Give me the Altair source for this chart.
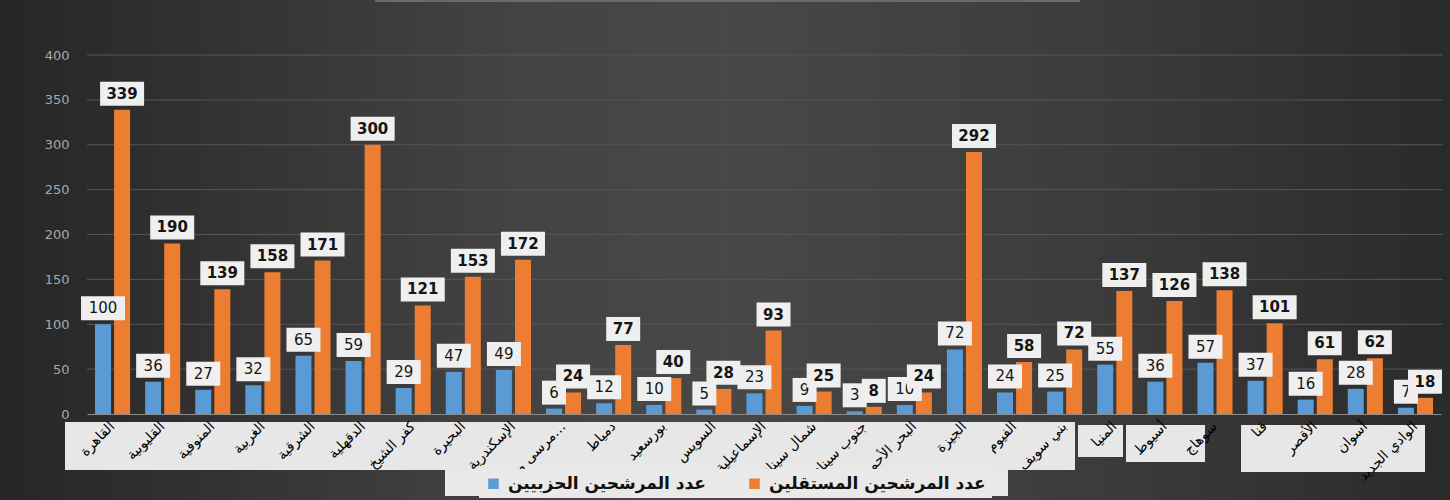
import altair as alt
import pandas as pd

governorates = [
    "القاهرة", "القليوبية", "المنوفية", "الغربية", "الشرقية", "الدقهلية",
    "كفر الشيخ", "البحيرة", "الإسكندرية", "مرسى مطروح", "دمياط", "بورسعيد",
    "السويس", "الإسماعيلية", "شمال سيناء", "جنوب سيناء", "البحر الأحمر",
    "الجيزة", "الفيوم", "بني سويف", "المنيا", "أسيوط", "سوهاج", "قنا",
    "الأقصر", "أسوان", "الوادي الجديد",
]
party = [100, 36, 27, 32, 65, 59, 29, 47, 49, 6, 12, 10, 5, 23, 9, 3, 10,
         72, 24, 25, 55, 36, 57, 37, 16, 28, 7]
independent = [339, 190, 139, 158, 171, 300, 121, 153, 172, 24, 77, 40, 28,
               93, 25, 8, 24, 292, 58, 72, 137, 126, 138, 101, 61, 62, 18]
series_names = ["عدد المرشحين الحزبيين", "عدد المرشحين المستقلين"]
series_colors = ["#5B9BD5", "#ED7D31"]
y_ticks = [0, 50, 100, 150, 200, 250, 300, 350, 400]

rows = []
for g, p, i in zip(governorates, party, independent):
    rows.append({"gov": g, "series": series_names[0], "value": p})
    rows.append({"gov": g, "series": series_names[1], "value": i})
df = pd.DataFrame(rows)
grid_df = pd.DataFrame({"t": y_ticks[1:]})
one = pd.DataFrame({"a": [0]})

W, H = 1354, 359
FONT = "DejaVu Sans"

x_enc = alt.X(
    "gov:N", sort=governorates,
    scale=alt.Scale(paddingInner=0.3, paddingOuter=0.16),
    axis=alt.Axis(title=None, labelAngle=-45, labelAlign="right",
                  labelBaseline="middle", labelFont=FONT, labelFontSize=14,
                  labelColor="#000000", labelPadding=10, ticks=False,
                  domain=True, domainColor="#8c8c8c", domainWidth=1,
                  grid=False, labelLimit=80, zindex=1),
)
xo_enc = alt.XOffset("series:N", sort=series_names,
                     scale=alt.Scale(paddingInner=0.16))
y_axis = alt.Axis(values=y_ticks, title=None, grid=False, domain=False,
                  ticks=False, labelColor="#a8a8a8", labelFontSize=13,
                  labelFont=FONT, labelPadding=18, zindex=1)
y_scale = alt.Scale(domain=[0, 400], nice=False)
y_enc = alt.Y("value:Q", scale=y_scale, axis=y_axis)


def deco(x, x2, y, y2, color):
    return alt.Chart(one).mark_rect(color=color).encode(
        x=alt.value(x), x2=alt.value(x2), y=alt.value(y), y2=alt.value(y2))


background = alt.Chart(one).mark_rect(
    fill=alt.Gradient(
        gradient="linear", x1=0, x2=1, y1=0, y2=0,
        stops=[alt.GradientStop(color="#262626", offset=0),
               alt.GradientStop(color="#434343", offset=0.35),
               alt.GradientStop(color="#484848", offset=0.5),
               alt.GradientStop(color="#3c3c3c", offset=0.75),
               alt.GradientStop(color="#2a2a2a", offset=1)])
).encode(x=alt.value(-87), x2=alt.value(W + 9), y=alt.value(-55),
         y2=alt.value(H + 86))

title_line = deco(288, 993, -55, -53, "#6a6a6a")

grid = alt.Chart(grid_df).mark_rule(color="#565656", strokeWidth=1).encode(
    y=alt.Y("t:Q", scale=y_scale, axis=y_axis),
    x=alt.value(0), x2=alt.value(W + 2))

strips = [
    deco(-22, 988, 367, 415, "#e7e7e7"),
    deco(991, 1036, 370, 402, "#e7e7e7"),
    deco(1039, 1118, 370, 407, "#e7e7e7"),
    deco(1154, 1338, 370, 417, "#e7e7e7"),
    deco(358, 921, 415, 441, "#e9e9e9"),
]

bars = alt.Chart(df).mark_bar().encode(
    x=x_enc, xOffset=xo_enc, y=y_enc,
    color=alt.Color(
        "series:N", sort=series_names,
        scale=alt.Scale(domain=series_names, range=series_colors),
        legend=alt.Legend(orient="none", legendX=392, legendY=414,
                          direction="horizontal", title=None,
                          labelFont=FONT, labelFontSize=17,
                          labelFontWeight="bold", labelColor="#111111",
                          symbolType="square", symbolSize=110,
                          symbolStrokeWidth=0, columnPadding=40, padding=6,
                          fillColor="#e9e9e9",
                          labelOffset=6, labelLimit=400, zindex=2)),
)

path_expr = (
    "'M' + (-(14 + 10*length(toString(datum.value)))/20) + ',-2.8'"
    " + 'L' + ((14 + 10*length(toString(datum.value)))/20) + ',-2.8'"
    " + 'L' + ((14 + 10*length(toString(datum.value)))/20) + ',-0.4'"
    " + 'L' + (-(14 + 10*length(toString(datum.value)))/20) + ',-0.4Z'"
)


def label_layers(series, weight):
    base = alt.Chart(df).transform_filter(
        alt.datum.series == series
    ).transform_calculate(boxpath=path_expr)
    box = base.mark_point(filled=True, size=400, fill="#efefef", opacity=1,
                          strokeWidth=0).encode(
        x=x_enc, xOffset=xo_enc, y=y_enc,
        shape=alt.Shape("boxpath:N", scale=None))
    txt = base.mark_text(font=FONT, fontSize=15, fontWeight=weight,
                         color="#151515", dy=-16, baseline="middle").encode(
        x=x_enc, xOffset=xo_enc, y=y_enc, text=alt.Text("value:Q"))
    return [box, txt]


layers = [background, title_line, grid] + strips + [bars]
layers += label_layers(series_names[0], "normal")
layers += label_layers(series_names[1], "bold")

chart = alt.layer(*layers).properties(
    width=W, height=H,
    autosize=alt.AutoSizeParams(type="none"),
    padding={"left": 87, "top": 55, "right": 9, "bottom": 86},
    background="#2e2e2e",
).configure_view(stroke=None)

chart.save("out.html", embed_options={"renderer": "svg", "actions": False})
